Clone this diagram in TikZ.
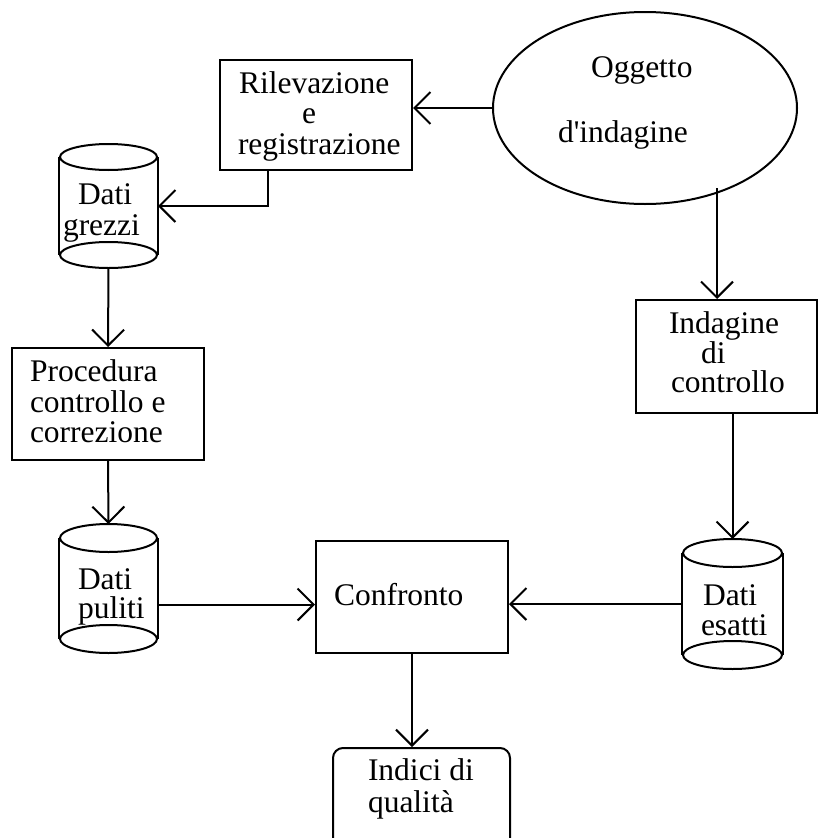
\documentclass[tikz,border=0pt]{standalone}
\usepackage{fontspec}
\setmainfont{Liberation Serif}
% same face without TeX ligatures, so the apostrophe stays straight
\newfontfamily\labelfont{Liberation Serif}
\usetikzlibrary{arrows.meta,shapes.geometric}

% outline of a data store: two full ellipses joined by the side walls
\newcommand\drawstore[3]{%
  \draw ([yshift=-#3pt]#1.north) ellipse ({#2} and {#3});
  \draw ([yshift=#3pt]#1.south) ellipse ({#2} and {#3});
  \draw ([yshift=-#3pt]#1.north west) -- ([yshift=#3pt]#1.south west);
  \draw ([yshift=-#3pt]#1.north east) -- ([yshift=#3pt]#1.south east);
}

\begin{document}
\begin{tikzpicture}[x=1pt,y=-1pt,
  line width=2pt,
  box/.style={draw, rectangle, inner sep=0pt},
  store/.style={rectangle, inner sep=0pt},
  lbl/.style={anchor=base west, inner sep=0pt, font=\labelfont\fontsize{31.5}{31}\selectfont},
  arr/.style={-{Straight Barb[length=16pt,width=32pt]}},
]

% processes and sources
\node[draw, ellipse, inner sep=0pt, minimum width=304pt, minimum height=192pt] (obj) at (645,108) {};
\node[box, minimum width=192pt, minimum height=110pt] (rilev) at (316,115) {};
\node[box, minimum width=192pt, minimum height=112pt] (proc) at (108,404) {};
\node[box, minimum width=192pt, minimum height=112pt] (confr) at (412,597) {};
\node[box, minimum width=180.5pt, minimum height=113pt] (indag) at (726.25,356.5) {};
\node[box, rounded corners=10pt, minimum width=177pt, minimum height=112pt] (indici) at (421.5,804) {};

% data stores
\node[store, minimum width=97pt, minimum height=122pt] (grezzi) at (108.5,206) {};
\node[store, minimum width=97pt, minimum height=127pt] (puliti) at (108.5,588.5) {};
\node[store, minimum width=99pt, minimum height=128pt] (esatti) at (732.5,604) {};
\drawstore{grezzi}{48.5}{13}
\drawstore{puliti}{48.5}{14}
\drawstore{esatti}{49.5}{14}

% labels
\node[lbl] (t-ogg1) at (590,77) {Oggetto};
\node[lbl] (t-ogg2) at (557,142) {d'indagine};
\node[lbl] (t-ril1) at (238,93) {Rilevazione};
\node[lbl] (t-ril2) at (301,123) {e};
\node[lbl] (t-ril3) at (237,154) {registrazione};
\node[lbl] (t-gre1) at (77,204) {Dati};
\node[lbl] (t-gre2) at (62,235) {grezzi};
\node[lbl] (t-pro1) at (29,381) {Procedura};
\node[lbl] (t-pro2) at (29,412) {controllo e};
\node[lbl] (t-pro3) at (29,442) {correzione};
\node[lbl] (t-pul1) at (77,589) {Dati};
\node[lbl] (t-pul2) at (77,618) {puliti};
\node[lbl] (t-con) at (333,605) {Confronto};
\node[lbl] (t-ind1) at (668,333) {Indagine};
\node[lbl] (t-ind2) at (700,363) {di};
\node[lbl] (t-ind3) at (670,392) {controllo};
\node[lbl] (t-esa1) at (702,605) {Dati};
\node[lbl] (t-esa2) at (700,635) {esatti};
\node[lbl] (t-qua1) at (367,780) {Indici di};
\node[lbl] (t-qua2) at (367,812) {qualità};

% flows
\coordinate (objout) at (717,188);
\draw[arr] (obj.west) -- (obj.west -| rilev.east);
\draw[arr] ([xshift=-48pt]rilev.south) |- (grezzi.east);
\draw[arr] (grezzi.south) -- (proc.north);
\draw[arr] (proc.south) -- (puliti.north);
\draw[arr] ([yshift=-16pt]puliti.east) -- ([yshift=-16pt]puliti.east -| confr.west);
\draw[arr] (objout) -- (objout |- indag.north);
\draw[arr] (esatti.north |- indag.south) -- (esatti.north);
\draw[arr] (esatti.west) -- (esatti.west -| confr.east);
\draw[arr] (confr.south) -- (confr.south |- indici.north);

\pgfresetboundingbox
\useasboundingbox (0,0) rectangle (818,838);
\end{tikzpicture}
\end{document}
